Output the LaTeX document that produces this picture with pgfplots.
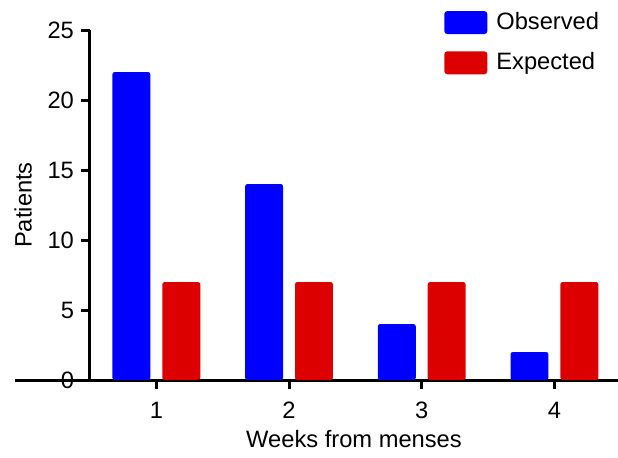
\documentclass[border=0pt]{standalone}
\usepackage{fontspec}
\setmainfont{Liberation Sans}
\usepackage{pgfplots}
\pgfplotsset{compat=1.18}

\definecolor{obsblue}{RGB}{0,0,255}
\definecolor{expred}{RGB}{220,0,0}

\pgfplotsset{
  boxlegend/.style={
    legend image code/.code={
      \fill[##1, rounded corners=1.5pt] (0pt,-5.75pt) rectangle (21.5pt,5.75pt);
    }
  }
}

\begin{document}
\begin{tikzpicture}
\begin{axis}[
    scale only axis,
    width=264pt, height=175pt,
    font=\fontsize{11.85}{14}\selectfont,
    /pgf/number format/assume math mode=true,
    ybar,
    bar width=0.286,
    xmin=0.5, xmax=4.479,
    ymin=0, ymax=25,
    xtick={1,2,3,4},
    ytick={0,5,10,15,20,25},
    axis x line*=bottom,
    axis y line*=left,
    axis line style={line width=1.5pt, -},
    tick align=outside,
    major tick length=4.5pt,
    tick style={line width=1.5pt, black},
    xticklabel style={yshift=-3pt},
    xlabel={Weeks from menses},
    ylabel={Patients},
    xlabel style={yshift=1pt},
    ylabel style={yshift=1pt},
    legend style={at={(0.659,1.074)}, anchor=north west, draw=none,
      fill=none, font=\fontsize{11.85}{14}\selectfont,
      row sep=6pt,
      /tikz/every odd column/.append style={column sep=2.5pt}},
    legend cell align=left,
    clip=false,
]
\addplot[fill=obsblue, draw=none, rounded corners=1.2pt, bar shift=-0.188, boxlegend]
  coordinates {(1,22) (2,14) (3,4) (4,2)};
\addlegendentry{Observed}
\addplot[fill=expred, draw=none, rounded corners=1.2pt, bar shift=0.188, boxlegend]
  coordinates {(1,7) (2,7) (3,7) (4,7)};
\addlegendentry{Expected}
\draw[line width=1.5pt] (rel axis cs:0,0) ++(-4.5pt,0) -- (rel axis cs:0,0);
\coordinate (o) at (rel axis cs:0,0);
\coordinate (t) at (rel axis cs:1,1);
\end{axis}
\pgfresetboundingbox
\path (o) ++(-45pt,-38.5pt) rectangle ([yshift=15pt]t);
\end{tikzpicture}
\end{document}
